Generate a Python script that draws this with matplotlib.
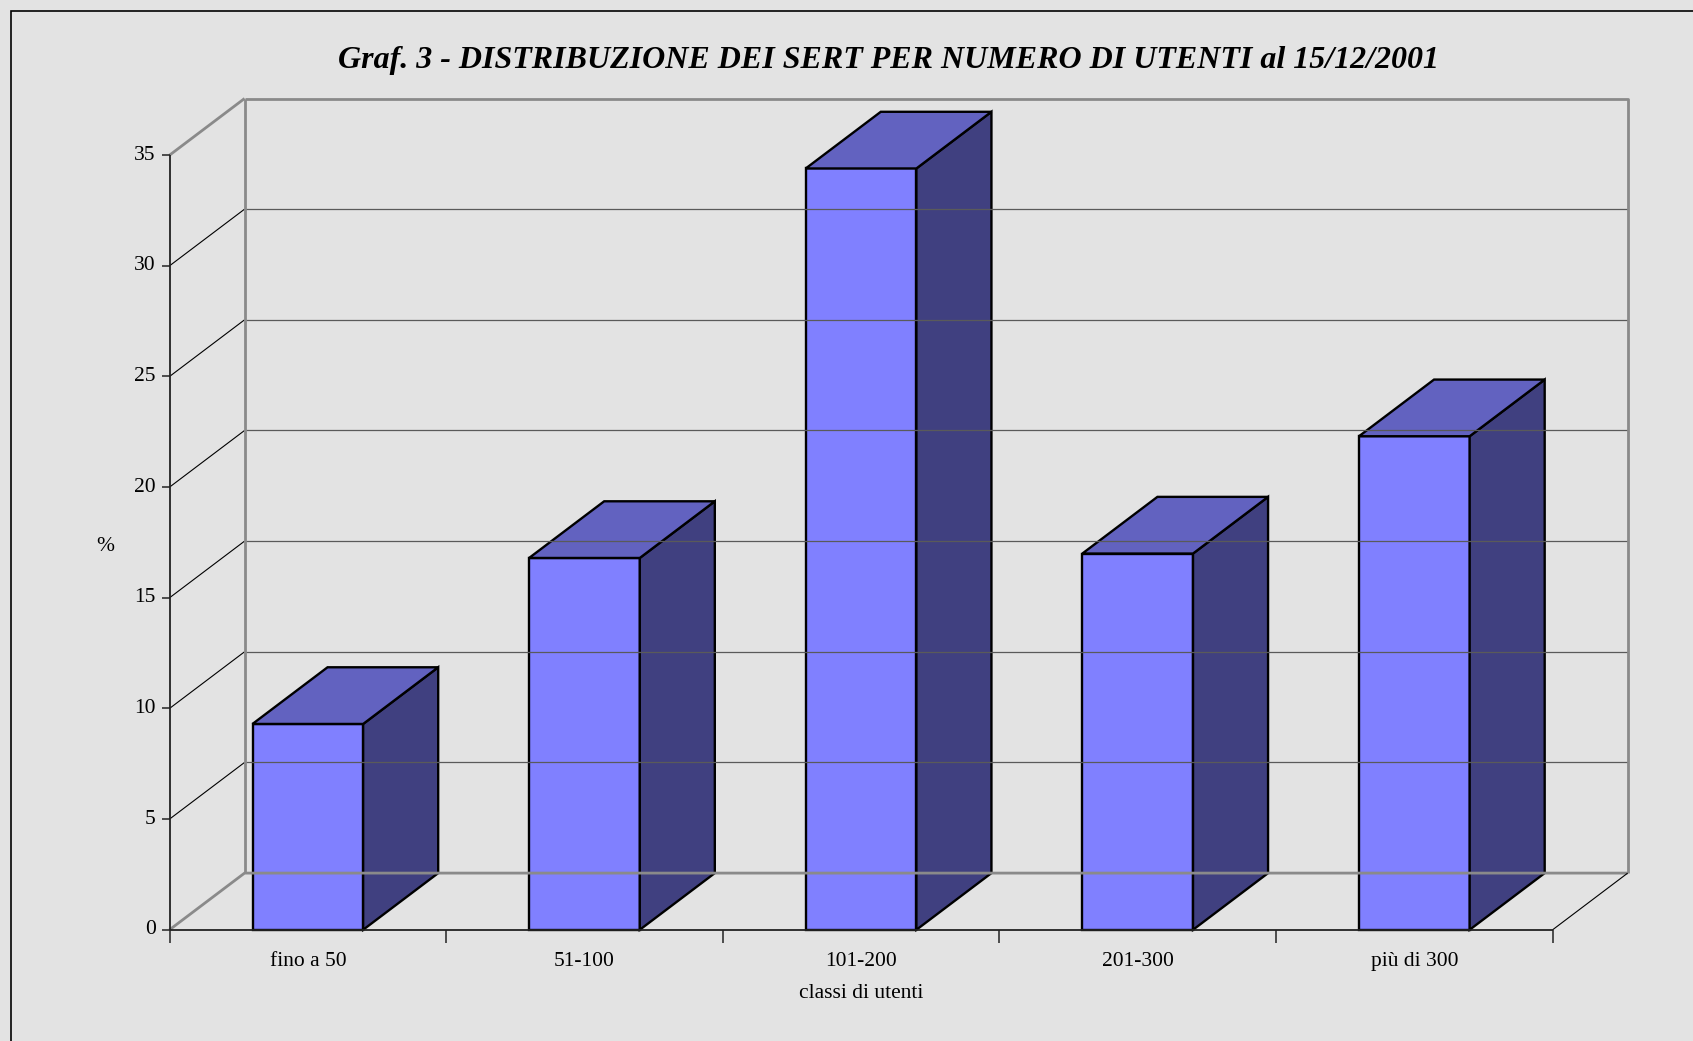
import numpy as np
import matplotlib.pyplot as plt
from matplotlib.patches import Polygon, Rectangle

categories = ['fino a 50', '51-100', '101-200', '201-300', 'più di 300']
values = [9.3, 16.8, 34.4, 17.0, 22.3]
yticks = [0, 5, 10, 15, 20, 25, 30, 35]

title = 'Graf. 3 - DISTRIBUZIONE DEI SERT PER NUMERO DI UTENTI al 15/12/2001'
xlabel = 'classi di utenti'
ylabel = '%'

bg = '#e3e3e3'
front_c = '#8080ff'
top_c = '#6262c0'
side_c = '#404080'
wall_c = '#8a8a8a'

plt.rcParams['font.family'] = ['Liberation Serif', 'DejaVu Serif']

fig = plt.figure(figsize=(16.93, 10.41), dpi=100)
fig.patch.set_facecolor(bg)

# front plane of the 3d box, in figure fractions
W, H = 1568.0, 964.0
x0, x1 = 157 / W, 1438 / W
y0, y1 = 1 - 861 / H, 1 - 143.7 / H
ax = fig.add_axes([x0, y0, x1 - x0, y1 - y0])
ax.set_xlim(0, len(categories))
ax.set_ylim(0, 35)
ax.axis('off')
ax.set_facecolor(bg)

n = len(categories)
ymax = yticks[-1]
DX = 69.5 / 256.2          # depth offset in category units
DY = 52.5 / 20.5           # depth offset in value units

# outer frame (only left/top visible)
fig.add_artist(Rectangle((10 / W, -0.5), 2, 1.5 - 10 / H, transform=fig.transFigure,
                         fill=False, edgecolor='black', lw=1.2))

def line(xs, ys, **kw):
    ax.plot(xs, ys, clip_on=False, solid_capstyle='butt', **kw)

# back wall grid lines and left wall diagonals
for v in yticks[1:-1]:
    line([DX, n + DX], [v + DY, v + DY], color='#5a5a5a', lw=0.9)
    line([0, DX], [v, v + DY], color='black', lw=0.8)

# wall edges (gray)
line([0, DX], [ymax, ymax + DY], color=wall_c, lw=2)
line([DX, n + DX, n + DX], [ymax + DY, ymax + DY, DY], color=wall_c, lw=2)
line([DX, DX], [DY, ymax + DY], color=wall_c, lw=2)
line([0, DX, n + DX], [0, DY, DY], color=wall_c, lw=2)
line([n, n + DX], [0, DY], color='black', lw=0.8)

# front axes
line([0, 0], [0, ymax], color='#222222', lw=1.3)
line([0, n], [0, 0], color='#222222', lw=1.3)
for v in yticks:
    line([-0.028, 0], [v, v], color='#222222', lw=1.1)
    ax.text(-0.05, v, str(v), ha='right', va='center', fontsize=15.5)
for k in range(n + 1):
    line([k, k], [0, -0.62], color='#222222', lw=1.1)

# bars
bw = 0.4
for i, v in enumerate(values):
    xl = i + 0.5 - bw / 2
    xr = xl + bw
    kw = dict(closed=True, edgecolor='black', lw=1.7, joinstyle='miter', clip_on=False)
    ax.add_patch(Polygon([(xl, 0), (xr, 0), (xr, v), (xl, v)], facecolor=front_c, **kw))
    ax.add_patch(Polygon([(xr, 0), (xr + DX, DY), (xr + DX, v + DY), (xr, v)],
                         facecolor=side_c, **kw))
    ax.add_patch(Polygon([(xl, v), (xr, v), (xr + DX, v + DY), (xl + DX, v + DY)],
                         facecolor=top_c, **kw))

for i, c in enumerate(categories):
    ax.text(i + 0.5, -1.45, c, ha='center', va='center', fontsize=15.5)

ax.text(n / 2, -2.9, xlabel, ha='center', va='center', fontsize=15.5)
ax.text(-0.234, 17.3, ylabel, ha='center', va='center', fontsize=15.5)

fig.text(823 / W, 1 - 56 / H, title, ha='center', va='center', fontsize=23,
         fontweight='bold', fontstyle='italic')

fig.savefig('out.png', dpi=100, facecolor=bg)
